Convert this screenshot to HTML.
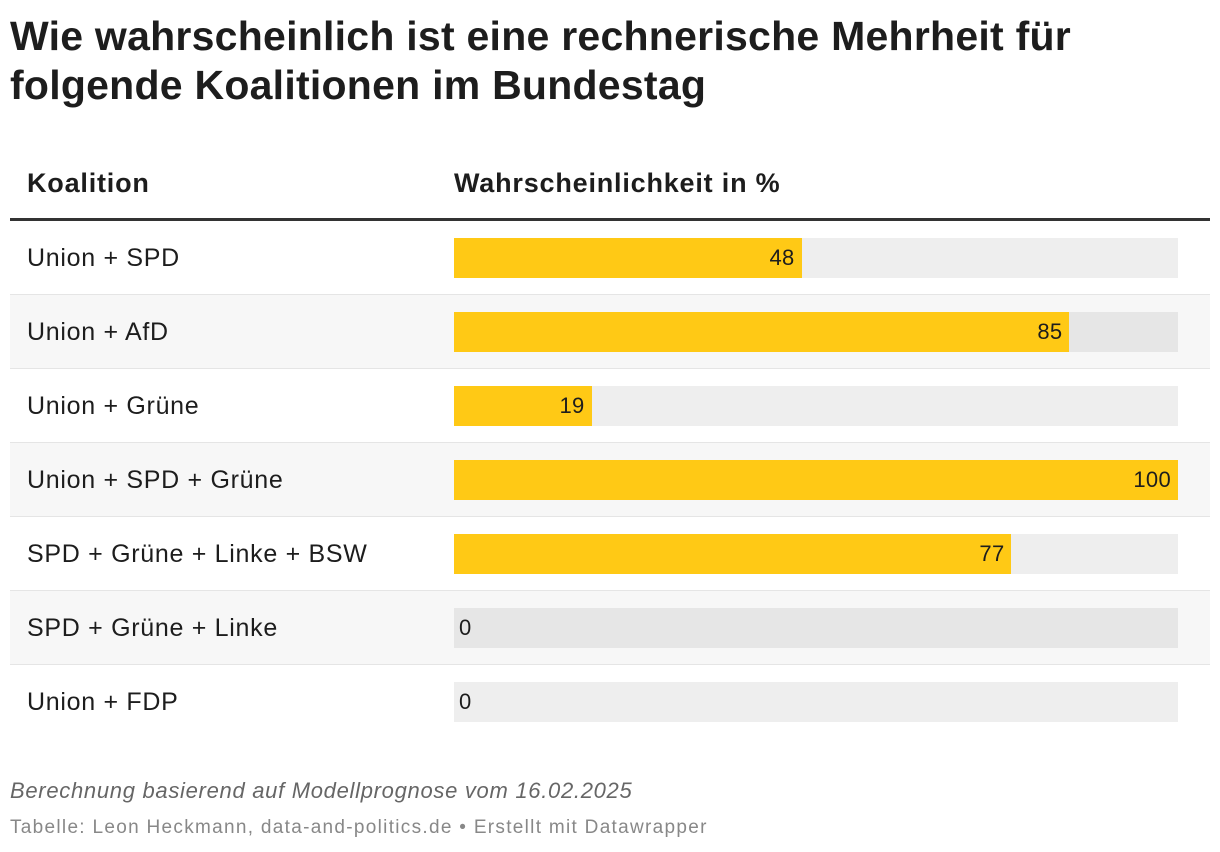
<!DOCTYPE html>
<html><head><meta charset="utf-8"><style>
body{margin:0;width:1220px;height:852px;background:#fff;font-family:"Liberation Sans",sans-serif;color:#1d1d1d;position:relative;overflow:hidden}
.t{position:absolute;left:10px;top:12px;font-size:41px;font-weight:bold;line-height:49px;letter-spacing:0.25px}
.h{position:absolute;top:168px;font-size:27px;font-weight:bold;letter-spacing:0.8px}
.row{position:absolute;left:10px;width:1200px;height:73px;border-bottom:1px solid #e5e5e5}
.row.last{border-bottom:none}
.lab{position:absolute;left:17px;top:23px;font-size:25px;letter-spacing:0.7px}
.bg{position:absolute;left:444px;width:724px;height:40px;top:17px;background:#eee}
.bar{position:absolute;left:0;top:0;height:40px;background:#ffc915}
.val{position:absolute;top:7px;font-size:22px;letter-spacing:0.3px}
.f1{position:absolute;left:10px;top:778px;font-size:22px;font-style:italic;color:#666;letter-spacing:0.7px}
.f2{position:absolute;left:10px;top:817px;font-size:19px;color:#888;letter-spacing:1.3px}
</style></head><body>
<div class="t">Wie wahrscheinlich ist eine rechnerische Mehrheit für<br>folgende Koalitionen im Bundestag</div>
<div class="h" style="left:27px">Koalition</div>
<div class="h" style="left:454px">Wahrscheinlichkeit in %</div>
<div style="position:absolute;left:10px;top:218px;width:1200px;height:3px;background:#333"></div>
<div id="rows"></div>
<div class="f1">Berechnung basierend auf Modellprognose vom 16.02.2025</div>
<div class="f2">Tabelle: Leon Heckmann, data-and-politics.de • Erstellt mit Datawrapper</div>
<script>
const categories=["Union + SPD","Union + AfD","Union + Grüne","Union + SPD + Grüne","SPD + Grüne + Linke + BSW","SPD + Grüne + Linke","Union + FDP"];
const values=[48,85,19,100,77,0,0];
const c=document.getElementById('rows');
categories.forEach((name,i)=>{
  const r=document.createElement('div');
  r.className='row'+(i===categories.length-1?' last':'');
  
  
  r.style.top=(221+74*i)+'px';
  r.style.background=i%2?'#f7f7f7':'#fff';
  const l=document.createElement('div');l.className='lab';l.textContent=name;
  
  
  const bg=document.createElement('div');bg.className='bg';
  
  
  if(i%2)bg.style.background='#e6e6e6';
  const w=values[i]/100*724;
  const b=document.createElement('div');b.className='bar';b.style.width=w+'px';
  
  
  const v=document.createElement('div');v.className='val';v.textContent=values[i];
  
  
  if(values[i]>5){v.style.right=(724-w+7)+'px';}else{v.style.left='5px';}
  bg.appendChild(b);bg.appendChild(v);r.appendChild(l);r.appendChild(bg);c.appendChild(r);
});
</script>
</body></html>
